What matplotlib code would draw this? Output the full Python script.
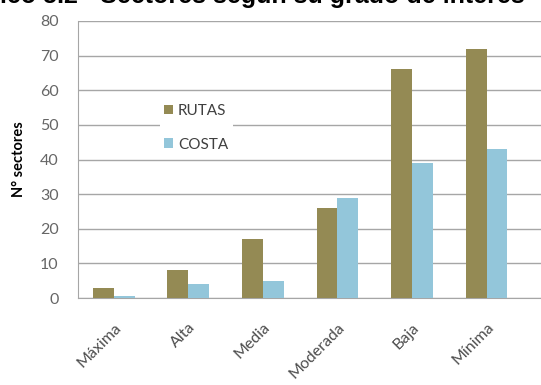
import matplotlib.pyplot as plt
import numpy as np

categorias = ['Máxima', 'Alta', 'Media', 'Moderada', 'Baja', 'Mínima']
rutas = [3, 8, 17, 26, 66, 72]
costa = [0.7, 4, 5, 29, 39, 43]

plt.rcParams['font.family'] = ['Lato', 'DejaVu Sans']

fig = plt.figure(figsize=(5.41, 3.85), dpi=100)
ax = fig.add_axes([78/541, 1 - 298/385, 1 - 78/541, 277/385])

x = np.arange(len(categorias))
w = 0.28
ax.bar(x - w/2, rutas, w, color='#948a54', label='RUTAS', zorder=3)
ax.bar(x + w/2, costa, w, color='#93c6da', label='COSTA', zorder=3)

ax.set_xlim(-0.48, 5.73)
ax.set_ylim(0, 80)
ax.set_yticks(range(0, 81, 10))
ax.yaxis.grid(True, color='#a6a6a6', linewidth=1, zorder=0)
ax.tick_params(axis='y', length=0, pad=14, labelsize=11.5, labelcolor='#666666')
ax.tick_params(axis='x', length=0, pad=16, labelsize=11.5, labelcolor='#4d4d4d')
ax.set_xticks(x)
ax.set_xticklabels(categorias, rotation=45, ha='right', rotation_mode='anchor')
for s in ['top', 'right']:
    ax.spines[s].set_visible(False)
ax.spines['left'].set_color('#a6a6a6')
ax.spines['bottom'].set_color('#a6a6a6')

ax.set_ylabel('N° sectores', fontsize=10.5, fontweight='bold', labelpad=10)

leg = ax.legend(loc='upper left', bbox_to_anchor=(0.16, 0.745), frameon=True,
                edgecolor='none', facecolor='white', framealpha=1,
                fontsize=11, handlelength=0.6, handleheight=0.6,
                handletextpad=0.3, labelspacing=1.3, borderpad=0.3)
leg.set_zorder(4)
for t in leg.get_texts():
    t.set_color('#404040')

fig.text(-0.01, 385 - 3, 'ico 5.2 - Sectores según su grado de interés', transform=None,
         fontsize=18, fontweight='bold', family='Liberation Sans', va='baseline')

fig.savefig('out.png', dpi=100)
